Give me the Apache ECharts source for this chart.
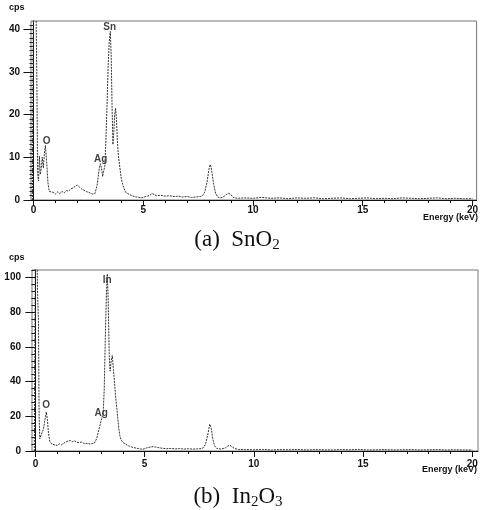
<!DOCTYPE html>
<html><head><meta charset="utf-8">
<script src="https://cdn.jsdelivr.net/npm/echarts@6/dist/echarts.min.js"></script>
<style>html,body{margin:0;padding:0;background:#fff}#c{width:481px;height:510px}</style>
</head><body><div id="c"></div>
<script>
// SnO2 spectrum: [energy keV, cps]
const snSpectrum = [[-0.05,0],[0,46],[0.05,60],[0.1,52],[0.15,30],[0.19,6],[0.23,4.5],[0.27,10.3],[0.31,6],[0.35,7.2],[0.4,10],[0.45,7.5],[0.5,11],[0.54,12.8],[0.6,9],[0.66,4],[0.72,2],[0.8,1.6],[0.9,1.8],[1.0,1.4],[1.1,1.9],[1.2,1.5],[1.3,2.0],[1.4,1.7],[1.5,2.2],[1.6,2.1],[1.7,2.6],[1.8,2.8],[1.9,3.2],[2.0,3.5],[2.1,3.0],[2.2,2.6],[2.3,2.3],[2.4,2.0],[2.5,1.8],[2.6,1.6],[2.7,1.4],[2.8,1.5],[2.9,3.5],[2.95,5.5],[3.0,7.5],[3.05,8.5],[3.1,7.5],[3.15,5.5],[3.2,5.2],[3.25,8],[3.3,14],[3.35,22],[3.4,31],[3.45,37],[3.5,39.5],[3.54,34],[3.58,22],[3.62,13],[3.66,16],[3.7,20],[3.74,21.5],[3.78,19],[3.82,14],[3.86,11],[3.9,9],[3.95,7],[4.0,5],[4.06,3.7],[4.12,2.8],[4.2,1.8],[4.3,1.5],[4.4,1.2],[4.5,1.0],[4.6,0.8],[4.7,0.7],[4.8,0.6],[4.9,0.5],[5.0,0.6],[5.1,0.8],[5.2,0.9],[5.3,1.1],[5.4,1.5],[5.5,1.3],[5.6,1.0],[5.8,1.1],[6.0,0.9],[6.2,1.0],[6.4,0.8],[6.6,0.9],[6.8,0.7],[7.0,0.8],[7.2,0.6],[7.4,0.7],[7.6,0.8],[7.7,1.0],[7.8,1.8],[7.9,4],[8.0,7.3],[8.05,8.3],[8.1,7.5],[8.2,4],[8.3,1.5],[8.4,0.7],[8.5,0.5],[8.6,0.6],[8.7,0.9],[8.8,1.3],[8.9,1.6],[9.0,1.2],[9.1,0.6],[9.3,0.4],[9.6,0.5],[10.0,0.4],[10.4,0.6],[10.8,0.4],[11.2,0.5],[11.6,0.3],[12.0,0.5],[12.4,0.4],[12.8,0.5],[13.2,0.3],[13.6,0.4],[14.0,0.5],[14.4,0.3],[14.8,0.4],[15.2,0.5],[15.6,0.3],[16.0,0.4],[16.4,0.3],[16.8,0.5],[17.2,0.4],[17.6,0.3],[18.0,0.4],[18.4,0.5],[18.8,0.3],[19.2,0.4],[19.6,0.3],[20.0,0.3]];
// In2O3 spectrum: [energy keV, cps]
const inSpectrum = [[-0.05,0],[0,110],[0.05,130],[0.1,90],[0.14,75],[0.17,20],[0.2,7],[0.25,9],[0.3,10],[0.35,12],[0.4,15],[0.45,19],[0.5,22.5],[0.55,18],[0.6,10],[0.66,5.5],[0.75,4],[0.9,3.5],[1.0,3.2],[1.1,4.2],[1.2,3.6],[1.3,4.5],[1.4,5.2],[1.5,5.8],[1.6,6.0],[1.7,5.4],[1.8,5.8],[1.9,5.0],[2.0,4.8],[2.1,5.2],[2.2,4.5],[2.3,4.2],[2.4,4.4],[2.5,4.0],[2.6,4.3],[2.7,4.5],[2.8,7],[2.9,12],[3.0,17],[3.05,16],[3.1,22],[3.15,35],[3.2,65],[3.25,90],[3.29,102],[3.33,88],[3.38,55],[3.42,46],[3.47,52],[3.52,55],[3.57,47],[3.63,38],[3.68,30],[3.74,23],[3.8,15],[3.86,9],[3.92,6.5],[4.0,5],[4.1,4.2],[4.2,3.4],[4.3,2.8],[4.4,2.3],[4.5,2.0],[4.6,1.7],[4.7,1.4],[4.8,1.2],[4.9,1.0],[5.0,1.3],[5.1,1.8],[5.2,2.1],[5.3,2.4],[5.4,2.5],[5.5,2.3],[5.6,2.0],[5.8,1.6],[6.0,1.3],[6.2,1.5],[6.4,1.2],[6.6,1.4],[6.8,1.1],[7.0,1.3],[7.2,1.1],[7.4,1.2],[7.6,1.4],[7.7,2],[7.8,4.5],[7.9,10],[7.98,15.5],[8.05,13],[8.12,7],[8.2,3],[8.3,1.5],[8.5,1.1],[8.7,1.8],[8.8,2.8],[8.9,3.3],[9.0,2.5],[9.1,1.5],[9.3,0.9],[9.6,0.8],[10.0,0.7],[10.4,0.9],[10.8,0.6],[11.2,0.8],[11.6,0.7],[12.0,0.9],[12.4,0.6],[12.8,0.8],[13.2,0.7],[13.6,0.6],[14.0,0.8],[14.4,0.7],[14.8,0.9],[15.2,0.6],[15.6,0.7],[16.0,0.8],[16.4,0.6],[16.8,0.7],[17.2,0.8],[17.6,0.6],[18.0,0.7],[18.4,0.8],[18.8,0.6],[19.2,0.7],[19.6,0.6],[20.0,0.6]];
// peak labels: [energy, cps, text]
const snPeaks = [[0.6,13.7,'O'],[3.06,9.6,'Ag'],[3.47,40.5,'Sn']];
const inPeaks = [[0.49,26.5,'O'],[3.01,21.9,'Ag'],[3.29,98.6,'In']];
// tick values
const xMajor = [0,5,10,15,20];
const xMinor = Array.from({length:21},(_,i)=>i);
const snYMajor = [0,10,20,30,40];
const snYMinor = Array.from({length:42},(_,i)=>i);
const inYMajor = [0,20,40,60,80,100];
const inYMinor = Array.from({length:27},(_,i)=>i*4);

const lab = {fontFamily:'Liberation Sans, Arial, sans-serif', fontWeight:'bold', fontSize:10, color:'#111'};
function xAxes(gi, min, max, margin){
  return [
    {type:'value', gridIndex:gi, min:min, max:max, splitLine:{show:false},
     axisLine:{show:true, lineStyle:{color:'#111', width:1}},
     axisTick:{show:true, customValues:xMinor, length:3, lineStyle:{color:'#111'}},
     axisLabel:Object.assign({show:true, customValues:xMajor, margin:margin}, lab)},
    {type:'value', gridIndex:gi, min:min, max:max, splitLine:{show:false}, position:'bottom',
     axisLine:{show:false},
     axisTick:{show:true, customValues:xMajor, length:6, lineStyle:{color:'#111'}},
     axisLabel:{show:false}}
  ];
}
function yAxes(gi, max, major, minor){
  return [
    {type:'value', gridIndex:gi, min:0, max:max, splitLine:{show:false},
     axisLine:{show:true, lineStyle:{color:'#111', width:1}},
     axisTick:{show:true, customValues:minor, length:4, lineStyle:{color:'#222'}},
     axisLabel:Object.assign({show:true, customValues:major, margin:11}, lab)},
    {type:'value', gridIndex:gi, min:0, max:max, splitLine:{show:false}, position:'left',
     axisLine:{show:false},
     axisTick:{show:true, customValues:major, length:10, lineStyle:{color:'#111'}},
     axisLabel:{show:false}}
  ];
}
function peakSeries(xi, yi, peaks){
  return {type:'scatter', xAxisIndex:xi, yAxisIndex:yi, symbolSize:0, silent:true,
    data:peaks.map(p=>({value:[p[0],p[1]], name:p[2]})),
    label:{show:true, position:'inside', formatter:'{b}', fontFamily:'Liberation Sans, Arial, sans-serif', fontWeight:'bold', fontSize:10, color:'#111'}};
}
const lineStyle = {color:'#333', width:1, type:[2,1]};
const capRich = {t:{fontFamily:'Liberation Serif, serif', fontSize:23, lineHeight:26, fill:'#111'}, s:{fontFamily:'Liberation Serif, serif', fontSize:15, lineHeight:12, verticalAlign:'bottom', fill:'#111'}};
const chart = echarts.init(document.getElementById('c'));
chart.setOption({
  animation:false,
  grid:[
    {left:31, top:21, width:448, height:179, show:true, borderColor:'#777', borderWidth:1},
    {left:32, top:270, width:446, height:181, show:true, borderColor:'#777', borderWidth:1}
  ],
  xAxis:[...xAxes(0,-0.113,20.19,5), ...xAxes(1,-0.156,20.26,8)],
  yAxis:[...yAxes(0,41.94,snYMajor,snYMinor), ...yAxes(1,104.3,inYMajor,inYMinor)],
  series:[
    {type:'line', xAxisIndex:0, yAxisIndex:0, data:snSpectrum, showSymbol:false, lineStyle:lineStyle, clip:true},
    {type:'line', xAxisIndex:2, yAxisIndex:2, data:inSpectrum, showSymbol:false, lineStyle:lineStyle, clip:true},
    peakSeries(0,0,snPeaks),
    peakSeries(2,2,inPeaks)
  ],
  graphic:[
    {type:'text', left:9, top:3, style:{text:'cps', font:'bold 9px Liberation Sans, Arial, sans-serif', fill:'#111'}},
    {type:'text', left:9, top:253, style:{text:'cps', font:'bold 9px Liberation Sans, Arial, sans-serif', fill:'#111'}},
    {type:'text', right:3, top:213, style:{text:'Energy (keV)', font:'bold 9px Liberation Sans, Arial, sans-serif', fill:'#111'}},
    {type:'text', right:4, top:465, style:{text:'Energy (keV)', font:'bold 9px Liberation Sans, Arial, sans-serif', fill:'#111'}},
    {type:'text', x:237, y:227, style:{text:'{t|(a)  SnO}{s|2}', align:'center', rich:capRich}},
    {type:'text', x:238, y:484, style:{text:'{t|(b)  In}{s|2}{t|O}{s|3}', align:'center', rich:capRich}}
  ]
});
</script></body></html>
